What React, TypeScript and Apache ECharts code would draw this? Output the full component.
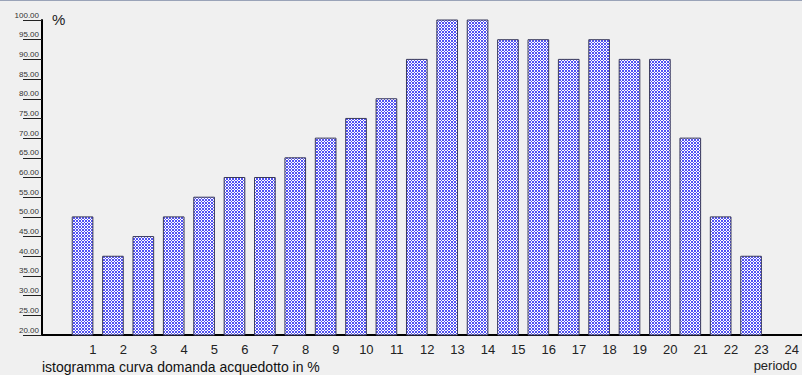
import React, { useEffect, useRef } from "react";
import * as echarts from "echarts";

const periods = [1, 2, 3, 4, 5, 6, 7, 8, 9, 10, 11, 12, 13, 14, 15, 16, 17, 18, 19, 20, 21, 22, 23];
const values = [50, 40, 45, 50, 55, 60, 60, 65, 70, 75, 80, 90, 100, 100, 95, 95, 90, 95, 90, 90, 70, 50, 40];
const yMin = 20;
const yMax = 100;
const yStep = 5;
const xMin = 0;
const xMax = 24;
const BAR_SPAN = 0.68;

function makePattern(): HTMLCanvasElement {
  const n = 3;
  const c = document.createElement("canvas");
  c.width = n;
  c.height = n;
  const ctx = c.getContext("2d")!;
  ctx.fillStyle = "#ffffff";
  ctx.fillRect(0, 0, n, n);
  ctx.fillStyle = "#5252f4";
  for (let x = 0; x < n; x++) {
    for (let y = 0; y < n; y++) {
      if ((x + y) % n === 0 || (x - y + n) % n === 0) ctx.fillRect(x, y, 1, 1);
    }
  }
  return c;
}

export default function App() {
  const ref = useRef<HTMLDivElement>(null);
  useEffect(() => {
    if (!ref.current) return;
    const chart = echarts.init(ref.current, undefined, { renderer: "svg" });
    const pat = makePattern();
    const pattern = { image: pat, repeat: "repeat", imageWidth: 3, imageHeight: 3 };
    const font = "'Liberation Sans', Arial, sans-serif";
    chart.setOption({
      animation: false,
      backgroundColor: "#f0f0f0",
      grid: [
        { left: 62.5, right: 8, top: 20, bottom: 40 },
        { left: 42, right: 0, top: 20, bottom: 40 },
      ],
      xAxis: [
        {
          type: "value",
          gridIndex: 0,
          min: xMin,
          max: xMax,
          interval: 1,
          axisLine: { show: false },
          axisTick: { show: false },
          splitLine: { show: false },
          axisLabel: {
            margin: 8,
            fontSize: 13,
            fontFamily: font,
            color: "#222",
            formatter: (v: number) => (v === 0 ? "" : String(v)),
          },
        },
        {
          type: "value",
          gridIndex: 1,
          min: 0,
          max: 1,
          axisLine: { show: true, onZero: false, lineStyle: { color: "#000", width: 2 } },
          axisTick: { show: false },
          axisLabel: { show: false },
          splitLine: { show: false },
        },
      ],
      yAxis: [
        {
          type: "value",
          gridIndex: 0,
          min: yMin,
          max: yMax,
          show: false,
        },
        {
          type: "value",
          gridIndex: 1,
          min: yMin,
          max: yMax,
          interval: yStep,
          axisLine: { show: true, lineStyle: { color: "#000", width: 2 } },
          axisTick: { show: true, length: 19, lineStyle: { color: "#222", width: 1 } },
          splitLine: { show: false },
          axisLabel: {
            margin: 3,
            fontSize: 8,
            fontFamily: font,
            color: "#333",
            verticalAlign: "bottom",
            padding: [0, 0, 1, 0],
            formatter: (v: number) => v.toFixed(2),
          },
        },
      ],
      graphic: [
        {
          type: "text",
          left: 52,
          top: 12,
          style: { text: "%", fontSize: 15, fontFamily: font, fill: "#222" },
        },
        {
          type: "text",
          left: 42,
          top: 360,
          style: {
            text: "istogramma curva domanda acquedotto in %",
            fontSize: 14,
            fontFamily: font,
            fill: "#111",
          },
        },
        {
          type: "text",
          right: 5,
          top: 359,
          style: { text: "periodo", fontSize: 13, fontFamily: font, fill: "#222" },
        },
      ],
      series: [
        {
          type: "custom",
          xAxisIndex: 0,
          yAxisIndex: 0,
          data: periods.map((p, i) => [p, values[i]]),
          renderItem: (params: any, api: any) => {
            const p = api.value(0);
            const v = api.value(1);
            const tl = api.coord([p - BAR_SPAN, v]);
            const br = api.coord([p, yMin]);
            return {
              type: "rect",
              shape: { x: tl[0], y: tl[1], width: br[0] - tl[0], height: br[1] - tl[1] },
              style: { fill: pattern, stroke: "#3a3a5a", lineWidth: 1 },
            };
          },
        },
      ],
    });
    return () => chart.dispose();
  }, []);
  return (
    <div
      style={{
        position: "fixed",
        left: 0,
        top: 0,
        width: 802,
        height: 375,
        background: "#f0f0f0",
      }}
    >
      <div ref={ref} style={{ width: 802, height: 375 }} />
      <div
        style={{
          position: "absolute",
          left: 0,
          top: 0,
          width: 802,
          height: 1,
          background: "#9aa3b8",
        }}
      />
    </div>
  );
}
